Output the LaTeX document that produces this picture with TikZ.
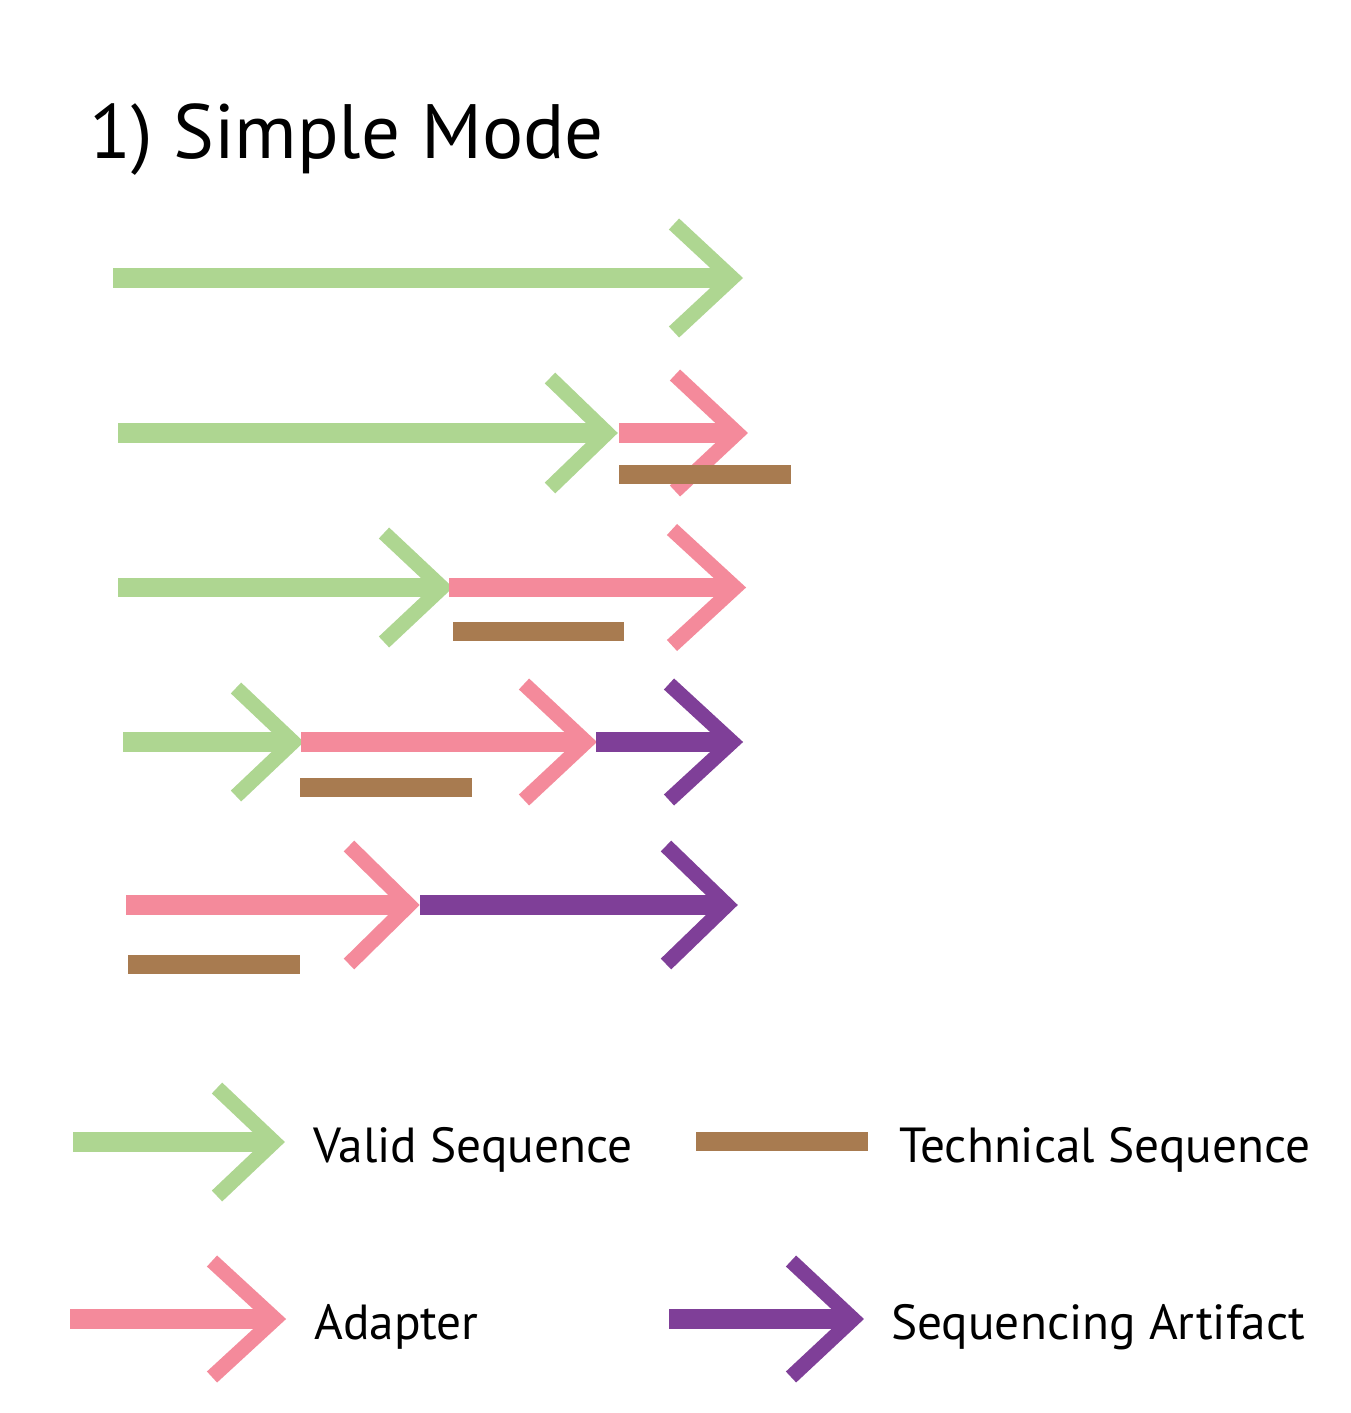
\documentclass[tikz,border=0pt]{standalone}
\usepackage{fontspec}
\setmainfont{PT Sans}
\definecolor{vgreen}{HTML}{AED691}
\definecolor{adpink}{HTML}{F48A9B}
\definecolor{techbrown}{HTML}{A87B50}
\definecolor{artpurple}{HTML}{7F3F98}
% \seqarr{colour}{x start}{y}{x arm ends}{x tip}{arm half height}
\newcommand{\seqarr}[6]{%
  \draw[seqline,#1] (#2,#3) -- ({#5-8},#3);
  \draw[seqchev,#1] (#4,{#3-#6}) -- (#5,#3) -- (#4,{#3+#6});
}
\newcommand{\techbar}[3]{%
  \draw[techline] (#1,#3) -- (#2,#3);
}
\begin{document}
\begin{tikzpicture}[x=1pt,y=-1pt,
  seqline/.style={line width=19.5pt,line cap=butt},
  seqchev/.style={line width=15pt,line cap=butt,line join=miter,miter limit=10},
  techline/.style={line width=19pt,line cap=butt,draw=techbrown},
  title/.style={inner sep=0pt,anchor=base west,font=\fontsize{77}{90}\selectfont},
  lbl/.style={inner sep=0pt,anchor=base west,font=\fontsize{49.3}{58}\selectfont}]
\useasboundingbox[fill=white] (0,0) rectangle (1351,1413);

\node[title] (ttl) at (89,158) {1) Simple Mode};

% row 1
\seqarr{draw=vgreen}{113}{278}{674}{732}{54}
% row 2
\seqarr{draw=vgreen}{118}{433}{550}{607}{55}
\seqarr{draw=adpink}{619}{433}{675}{737}{58}
\techbar{619}{791}{474.5}
% row 3
\seqarr{draw=vgreen}{118}{587.5}{384}{442}{54.5}
\seqarr{draw=adpink}{449}{587.5}{672}{735}{58}
\techbar{453}{624}{631.5}
% row 4
\seqarr{draw=vgreen}{123}{742}{236}{293}{54}
\seqarr{draw=adpink}{301}{742}{524}{586}{58}
\seqarr{draw=artpurple}{596}{742}{669}{732}{58}
\techbar{300}{472}{787}
% row 5
\seqarr{draw=adpink}{126}{905}{349}{409}{59}
\seqarr{draw=artpurple}{420}{905}{666}{727}{59}
\techbar{128}{300}{964}

% legend
\seqarr{draw=vgreen}{73}{1142}{217}{274}{54}
\node[lbl] (lvalid) at (313,1162) {Valid Sequence};
\techbar{696}{868}{1141.5}
\node[lbl] (ltech) at (899,1162) {Technical Sequence};
\seqarr{draw=adpink}{70}{1319}{212}{275}{58}
\node[lbl] (ladapt) at (314,1339) {Adapter};
\seqarr{draw=artpurple}{669}{1319}{791}{853}{58}
\node[lbl] (lart) at (891,1339) {Sequencing Artifact};
\end{tikzpicture}
\end{document}
